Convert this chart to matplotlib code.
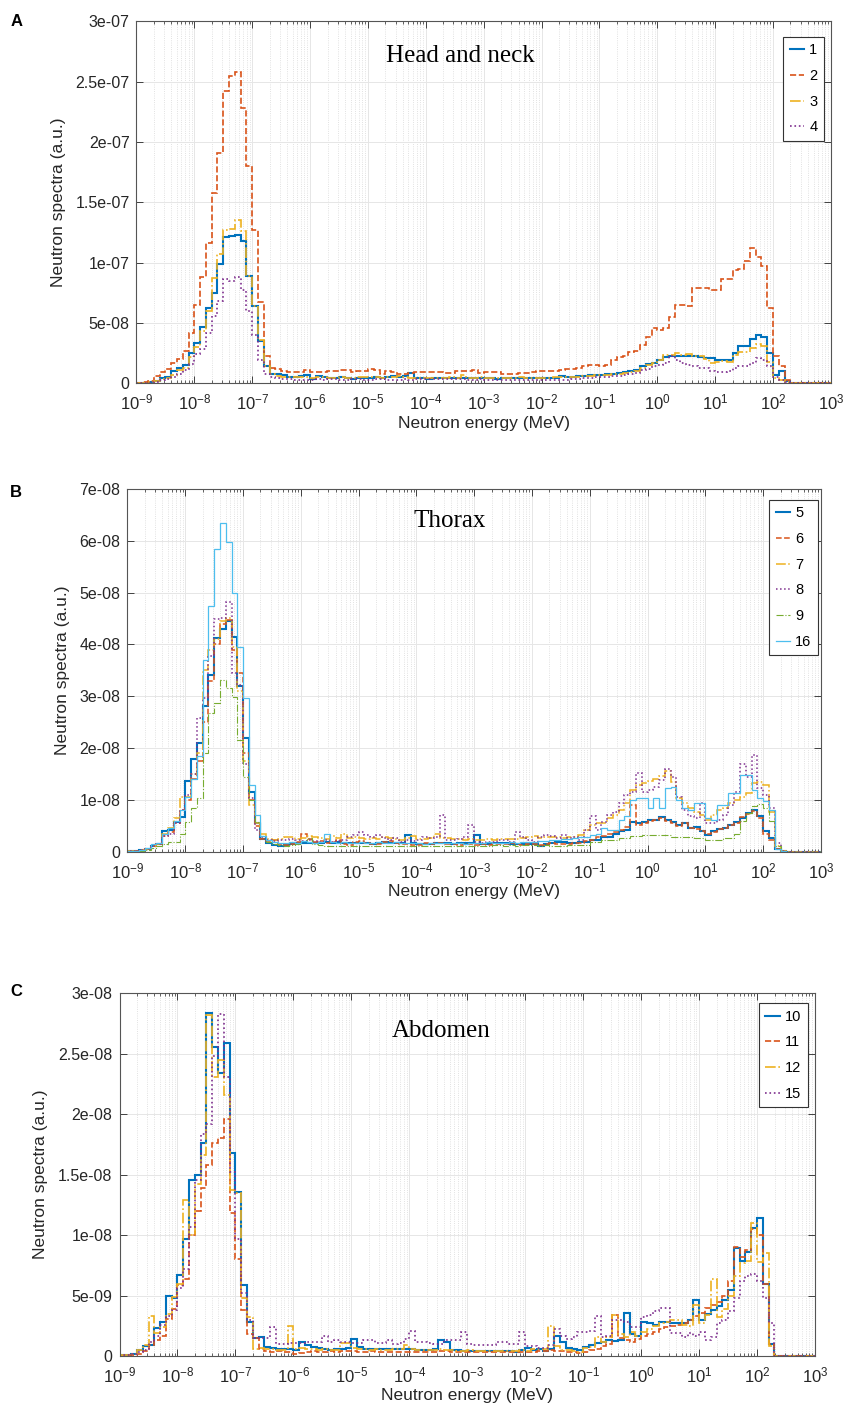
import numpy as np
import matplotlib
matplotlib.use('Agg')
import matplotlib.pyplot as plt
from matplotlib.ticker import FuncFormatter, LogLocator, NullFormatter, MultipleLocator, LogFormatterMathtext

plt.rcParams['font.family'] = ['Liberation Sans', 'DejaVu Sans']
plt.rcParams['mathtext.fontset'] = 'custom'
plt.rcParams['mathtext.rm'] = 'Liberation Sans'
plt.rcParams['mathtext.it'] = 'Liberation Sans:italic'
plt.rcParams['mathtext.default'] = 'regular'

# energy bins: 10 per decade, 1e-9 .. 1e3 MeV
edges = np.logspace(-9, 3, 121)

# ---- panel A: head and neck (units of 1e-9) ----
a1 = [0, 0.5, 1.4, 2.2, 4, 5, 10, 12.5, 15, 25,
      33, 47, 62, 75, 99, 121, 122, 123, 118, 89,
      64, 35, 14, 8, 7.5, 7, 5.5, 5, 6, 7,
      3.5, 6, 5.5, 4, 4, 5, 4, 3.6, 4, 4,
      4.7, 5, 4, 5, 6, 5.5, 6, 8.3, 4, 4,
      3.6, 4, 4, 4, 4, 4, 4, 4.5, 4, 4,
      4, 4, 3.6, 4, 4, 4.7, 4.7, 4, 4, 4,
      4, 4, 4, 6, 5.5, 5.5, 6, 6, 6.5, 7,
      7, 7.5, 8, 8.5, 9, 10, 11, 14, 16, 16.5,
      19, 22, 23, 23, 22.5, 22.5, 22.5, 22, 21, 21,
      19.5, 19, 19, 25, 31, 31, 37, 40, 38, 25,
      7, 10, 1.5, 0.3, 0, 0, 0, 0, 0, 0]
a2 = [0.3, 0.8, 2, 6, 9, 12, 17, 20, 27, 42,
      65, 88, 116, 158, 191, 242, 255, 258, 228, 180,
      127, 67, 23, 13, 12, 10, 9, 9, 9, 11,
      9, 9.5, 9, 10, 10, 11, 11, 9, 10, 10,
      11.5, 11, 7.5, 10, 9, 8, 8, 8.5, 9, 9,
      9, 9, 9, 8.5, 8.3, 10, 10, 10, 11, 8.3,
      9, 9, 9, 8, 7.5, 7.5, 8.3, 8.3, 9, 10,
      10, 10, 10.5, 11, 12, 12, 13, 14, 15, 15,
      14, 15, 19, 22, 23, 26, 27, 32, 38, 46,
      44, 46, 55, 65, 65, 64, 79, 79, 79, 77,
      77, 86, 86, 94, 95, 101, 112, 105, 97, 62,
      23, 14, 3, 0.5, 0, 0, 0, 0, 0, 0]
a3 = [0, 0.3, 1, 2, 3.5, 4.5, 7, 11, 13, 22,
      30, 43, 60, 87, 107, 127, 128, 135, 126, 89,
      64, 36, 14, 8, 6, 5.5, 5, 5, 5, 5.5,
      4.5, 5, 5, 4.5, 4.5, 5, 4.5, 4.5, 5, 5,
      5, 5.5, 4.5, 5, 5, 6, 5, 4.5, 4.5, 4,
      4.5, 4.5, 4, 4.5, 5, 4.5, 6.5, 4.5, 4.5, 5,
      4.5, 4.5, 4, 4.5, 4.5, 4.5, 5, 4, 4, 4.5,
      4.5, 4.5, 5, 5, 5, 5, 5.5, 6, 6, 6.5,
      7, 7, 7.5, 8, 8.5, 9.5, 10.5, 13, 15, 17,
      19, 23.5, 23.5, 25, 23.5, 24, 22.5, 22.5, 20.5, 16.5,
      18, 18.5, 18, 23.5, 26, 26, 29, 32.5, 31, 18,
      4, 3, 1, 0.3, 0, 0, 0, 0, 0, 0]
a4 = [0, 0.2, 0.5, 1, 2.5, 3.5, 5, 8, 11, 16,
      24, 28, 42, 56, 68, 86, 85, 88, 77, 60,
      40, 19, 8, 5, 4, 3.5, 3.5, 3, 3, 3,
      3, 3.5, 3, 3.5, 3.5, 3, 3, 3.5, 3.5, 3,
      3, 3.5, 3.5, 3, 3, 3, 3.5, 3, 3.5, 3.5,
      3.5, 3.5, 3.5, 3.5, 3.5, 3.5, 3.5, 3, 3, 3.5,
      2.5, 3, 3, 3, 3, 3, 3, 3, 3, 3,
      3, 3, 3, 3, 3, 3.3, 3.5, 4, 4.5, 5,
      5, 5.5, 6, 6, 7, 7.5, 8.5, 11, 12, 14,
      15.5, 17, 22.5, 19, 16.5, 15, 14, 13, 12.5, 10,
      9.7, 9.7, 10.5, 12.4, 14, 14, 16.6, 20.7, 19, 14,
      5.5, 2.8, 0.8, 0.2, 0, 0, 0, 0, 0, 0]

# ---- panel B: thorax (units of 1e-10) ----
b5 = [0.5, 1, 3, 6, 10, 15, 40, 42, 58, 66,
      137, 178, 210, 282, 340, 412, 430, 445, 414, 320,
      220, 116, 55, 25, 17, 13, 11, 13, 14, 16,
      17, 17, 16, 17, 19, 17, 19, 17, 17, 16,
      16, 16, 15, 16, 18, 16, 16, 17, 32, 17,
      15, 15, 15, 16, 16, 16, 15, 16, 16, 16,
      32, 14, 14, 16, 16, 16, 15, 15, 15, 14,
      14, 11, 15, 16, 19, 19, 16, 16, 19, 19,
      22.5, 22.5, 29, 29, 35, 39, 42, 58, 55, 58,
      62, 62, 66, 62, 58, 51, 56, 45, 48, 39,
      32, 39, 43, 45, 51, 58, 64, 74, 80, 68,
      39, 26, 6, 1, 0, 0, 0, 0, 0, 0]
b6 = [0.5, 1, 3, 6, 10, 14, 30, 38, 55, 80,
      100, 140, 175, 250, 330, 400, 440, 448, 390, 345,
      190, 100, 50, 25, 20, 22, 15, 12, 14, 18,
      35, 25, 18, 20, 17, 18, 22, 15, 13, 18,
      20, 17, 14, 15, 18, 20, 16, 15, 14, 12,
      13, 16, 15, 17, 16, 14, 14, 13, 15, 14,
      13, 14, 12, 15, 14, 15, 16, 15, 13, 14,
      15, 12, 14, 16, 14, 15, 14, 16, 17, 20,
      22, 28, 30, 35, 38, 42, 48, 90, 52, 55,
      60, 62, 64, 60, 55, 50, 55, 46, 44, 40,
      35, 38, 43, 45, 52, 56, 66, 72, 78, 65,
      35, 22, 5, 1, 0, 0, 0, 0, 0, 0]
b7 = [0.5, 1, 3, 6, 10, 15, 35, 45, 65, 105,
      105, 150, 190, 350, 390, 410, 445, 450, 395, 310,
      175, 90, 55, 35, 25, 22, 24, 28, 28, 25,
      26, 30, 28, 27, 25, 30, 26, 35, 27, 28,
      26, 25, 27, 24, 28, 26, 25, 22, 27, 30,
      25, 24, 26, 35, 27, 26, 25, 24, 23, 25,
      22, 23, 24, 23, 25, 24, 25, 24, 26, 28,
      30, 27, 28, 29, 28, 27, 29, 29, 32, 42,
      51, 55, 55, 64, 71, 80, 93, 119, 129, 132,
      137, 140, 146, 156, 135, 103, 93, 84, 77, 71,
      61, 71, 80, 84, 93, 100, 106, 113, 132, 135,
      129, 77, 10, 1, 0, 0, 0, 0, 0, 0]
b8 = [0.5, 1, 3, 6, 10, 14, 30, 35, 55, 80,
      110, 150, 257, 296, 378, 449, 450, 482, 344, 322,
      170, 103, 42, 29, 22, 20, 22, 22, 25, 22,
      20, 22, 20, 18, 22, 18, 20, 22, 29, 32,
      38, 33, 28, 32, 26, 23, 26, 19, 22, 20,
      22, 29, 27, 29, 71, 23, 22, 25, 29, 51,
      19, 16, 19, 19, 22, 22, 19, 37, 29, 22,
      19, 29, 33, 30, 26, 32, 26, 29, 22, 42,
      68, 42, 58, 71, 77, 93, 109, 116, 151, 116,
      119, 125, 138, 159, 145, 106, 80, 68, 64, 93,
      55, 55, 61, 71, 90, 116, 169, 145, 187, 122,
      109, 84, 16, 1, 0, 0, 0, 0, 0, 0]
b9 = [0.3, 0.8, 2, 4, 7, 10, 15, 18, 19, 35,
      58, 84, 103, 190, 267, 286, 331, 315, 299, 215,
      145, 100, 58, 30, 18, 14, 12, 11, 12, 14,
      20, 27, 14, 12, 11, 10, 11, 10, 10, 11,
      10, 11, 10, 10, 11, 10, 10, 11, 10, 10,
      10, 11, 10, 10, 11, 10, 11, 10, 10, 11,
      11, 10, 11, 12, 12, 11, 12, 11, 12, 12,
      12, 11, 12, 11, 10, 10, 13, 13, 13, 13,
      19, 19, 22, 22, 22, 26, 26, 30, 30, 32,
      32, 32, 33, 33, 29, 29, 28, 28, 26, 26,
      22, 22, 22, 26, 26, 35, 60, 75, 88, 92,
      85, 60, 10, 1, 0, 0, 0, 0, 0, 0]
b16 = [0.5, 1, 3, 8, 15, 17, 35, 45, 60, 80,
       105, 140, 185, 370, 475, 585, 635, 597, 500, 395,
       297, 129, 70, 30, 22, 18, 16, 17, 18, 17,
       20, 18, 17, 18, 34, 18, 17, 18, 17, 16,
       18, 16, 17, 18, 17, 16, 18, 17, 16, 17,
       16, 15, 17, 16, 17, 16, 17, 16, 15, 16,
       17, 16, 18, 17, 16, 17, 18, 17, 18, 19,
       18, 20, 21, 22, 23, 25, 25, 27, 29, 29,
       32, 35, 45, 42, 42, 61, 68, 100, 103, 103,
       84, 103, 84, 122, 125, 100, 84, 80, 93, 93,
       64, 61, 90, 90, 113, 114, 148, 148, 119, 103,
       97, 80, 6, 1, 0, 0, 0, 0, 0, 0]

# ---- panel C: abdomen (units of 1e-10) ----
c10 = [1, 1, 2, 5, 8, 9, 23, 28, 50, 48,
       67, 97, 146, 150, 176, 284, 256, 234, 259, 168,
       136, 59, 28, 15, 16, 7.7, 6.3, 5.5, 6, 6,
       5, 12, 9, 7.7, 6.5, 6, 5, 5.5, 6, 6.5,
       13.8, 7.7, 5.5, 5.5, 5.5, 5.5, 5.5, 5.5, 5.5, 5.5,
       5.5, 5, 5, 5, 5.5, 13, 12, 5, 5, 4.5,
       4.5, 4.5, 4, 4, 4, 4, 4, 4, 3.5, 5,
       7, 5, 5.5, 4.5, 5.5, 17, 12, 7, 6, 5,
       7.7, 9, 10.5, 12, 13, 12.7, 13, 36, 18, 17,
       28, 27, 26, 28, 28, 27, 27, 27, 30, 46,
       30, 35, 38, 41, 46, 55, 89, 79, 86, 106,
       114, 60, 10, 0, 0, 0, 0, 0, 0, 0]
c11 = [0.3, 0.5, 1, 2, 4, 9, 13, 17, 31, 39,
       59, 64, 100, 120, 139, 158, 176, 180, 196, 118,
       80, 38, 18, 15, 6, 4, 3.5, 4, 3.5, 3,
       2, 2.5, 3, 4, 3.5, 3, 4, 3.5, 4, 4,
       4.5, 3.5, 3.5, 4, 3.5, 3.5, 3, 3.5, 3.5, 3.5,
       3.5, 3, 3.5, 3.5, 3.5, 4, 4, 3.5, 3.5, 3.5,
       3.5, 3, 3, 3, 3.5, 3.5, 3.5, 3.5, 3.5, 3.5,
       3, 3.5, 4, 4.5, 5, 4, 4, 3, 3, 2.5,
       3.5, 5, 6, 8, 10, 34, 15, 13, 12, 14,
       17, 18, 20, 22, 24, 25, 26, 27, 30, 33,
       36, 40, 42, 45, 50, 62, 90, 82, 88, 105,
       100, 60, 10, 0, 0, 0, 0, 0, 0, 0]
c12 = [0.5, 1, 2, 5, 9, 33, 19, 24, 35, 49,
       60, 129, 100, 142, 166, 282, 231, 245, 216, 137,
       135, 48, 32, 6, 6.5, 5.5, 6, 5, 5, 25,
       6, 7, 5.5, 6, 5, 5.5, 5, 5, 10.5, 11,
       6.5, 6, 5.5, 5, 5.5, 5, 5, 5.5, 5.5, 9,
       5.5, 5, 5, 5, 5, 5.5, 5, 5, 4.5, 4.5,
       5, 4.5, 4.5, 4.5, 4.5, 4.5, 4.5, 4, 4.5, 5,
       4.5, 5.5, 5.5, 5.5, 25, 8, 5, 5, 4, 3.6,
       6.3, 7.7, 16, 12, 16, 34, 18, 16, 20, 17,
       20, 22, 25, 27, 28, 30, 30, 26, 25, 42,
       27, 34, 64, 32, 39, 50, 66, 77, 79, 110,
       78, 85, 8, 0, 0, 0, 0, 0, 0, 0]
c15 = [0.5, 1, 1.5, 3, 5, 12, 17, 26, 33, 38,
       56, 72, 107, 146, 184, 192, 248, 283, 231, 152,
       97, 52, 30, 15, 15, 15, 24, 10, 10, 10.5,
       10.5, 10.5, 12, 12, 12, 17, 12, 13, 12, 12,
       11, 11, 13, 13, 11, 11, 13, 10, 11, 14,
       21, 12, 12, 11, 10, 10, 13, 13, 13, 20,
       10, 9, 9, 9, 9, 12, 12, 10, 10, 20,
       8, 8, 7, 6.3, 9, 22, 17, 14, 16, 20,
       20, 21, 33, 16, 17, 30, 30, 28, 24, 24,
       32, 34, 37, 40, 40, 19, 19, 16, 19, 17,
       20, 13, 16, 27, 30, 37, 48, 62, 66, 68,
       62, 48, 27, 0, 0, 0, 0, 0, 0, 0]

blue, orange, yellow = '#0072BD', '#D95319', '#EDB120'
purple, green, cyan = '#7E2F8E', '#77AC30', '#4DBEEE'

panels = [
    dict(rect=[0.1613, 0.7276, 0.8209, 0.2573], scale=1e-9, ymax=3e-7, ystep=5e-8,
         title='Head and neck', tpos=(0.466, 0.905), leg=(0.990, 0.957), letter='A', ly=0.985,
         series=[(a1, '1', blue, '-', 1.5), (a2, '2', orange, '--', 1.2),
                 (a3, '3', yellow, '-.', 1.2), (a4, '4', purple, ':', 1.2)]),
    dict(rect=[0.1507, 0.3947, 0.8197, 0.2578], scale=1e-10, ymax=7e-8, ystep=1e-8,
         title='Thorax', tpos=(0.465, 0.912), leg=(0.996, 0.970), letter='B', ly=0.650,
         series=[(b5, '5', blue, '-', 1.5), (b6, '6', orange, '--', 1.1),
                 (b7, '7', yellow, '-.', 1.1), (b8, '8', purple, ':', 1.1),
                 (b9, '9', green, '-.', 0.8), (b16, '16', cyan, '-', 0.9)]),
    dict(rect=[0.1413, 0.0362, 0.8221, 0.2578], scale=1e-10, ymax=3e-8, ystep=5e-9,
         title='Abdomen', tpos=(0.462, 0.897), leg=(0.990, 0.973), letter='C', ly=0.295,
         series=[(c10, '10', blue, '-', 1.5), (c11, '11', orange, '--', 1.2),
                 (c12, '12', yellow, '-.', 1.2), (c15, '15', purple, ':', 1.2)]),
]

fig = plt.figure(figsize=(8.46, 14.07), dpi=100)

for p in panels:
    ax = fig.add_axes(p['rect'])
    for vals, lab, col, ls, lw in p['series']:
        ax.stairs(np.array(vals) * p['scale'], edges, color=col, linestyle=ls,
                  linewidth=lw, label=lab)
    ax.set_xscale('log')
    ax.set_xlim(1e-9, 1e3)
    ax.set_ylim(0, p['ymax'])
    ax.set_xticks(10.0 ** np.arange(-9, 4))
    ax.xaxis.set_major_formatter(LogFormatterMathtext())
    ax.xaxis.set_minor_locator(LogLocator(base=10, subs=np.arange(2, 10), numticks=200))
    ax.xaxis.set_minor_formatter(NullFormatter())
    ax.yaxis.set_major_locator(MultipleLocator(p['ystep']))
    ax.yaxis.set_major_formatter(FuncFormatter(lambda v, pos: '0' if abs(v) < 1e-20 else f'{v:g}'))
    ax.grid(True, which='major', color='#e6e6e6', linewidth=0.7)
    ax.grid(True, which='minor', axis='x', color='#d8d8d8', linestyle=':', linewidth=0.6)
    ax.set_axisbelow(True)
    ax.tick_params(which='both', direction='in', top=True, right=True, colors='#262626',
                   labelsize=11.5, pad=5)
    ax.tick_params(axis='x', which='major', labelsize=12, pad=7)
    ax.tick_params(which='major', length=5, width=0.6)
    ax.tick_params(which='minor', length=2.5, width=0.5)
    for s in ax.spines.values():
        s.set_color('#555555')
        s.set_linewidth(0.8)
    ax.set_xlabel('Neutron energy (MeV)', fontsize=12.5, color='#262626', labelpad=2)
    ax.set_ylabel('Neutron spectra (a.u.)', fontsize=12.5, color='#262626', labelpad=7)
    ax.text(p['tpos'][0], p['tpos'][1], p['title'], transform=ax.transAxes,
            ha='center', va='center', fontsize=18, family='Liberation Serif')
    leg = ax.legend(loc='upper right', bbox_to_anchor=p['leg'], fontsize=10.5,
                    handlelength=1.0, handletextpad=0.35, borderpad=0.45,
                    labelspacing=0.8, borderaxespad=0, fancybox=False,
                    edgecolor='#333333', framealpha=1)
    leg.get_frame().set_linewidth(0.8)
    fig.text(0.012, p['ly'], p['letter'], fontsize=12, fontweight='bold', va='center')

fig.savefig('out.png', dpi=100)
